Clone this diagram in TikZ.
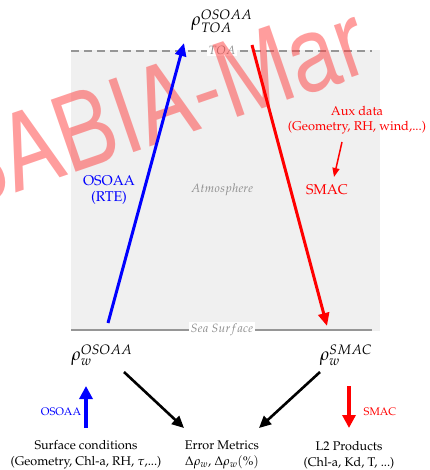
\documentclass[tikz,border=0pt]{standalone}
\usepackage[T1]{fontenc}
\usepackage{mathpazo}
\usepackage[scaled]{helvet}
\usetikzlibrary{arrows.meta}
\definecolor{bgray}{RGB}{240,240,240}
\definecolor{lgray}{RGB}{150,150,150}
\definecolor{tgray}{RGB}{140,140,140}
\definecolor{wmred}{RGB}{255,60,60}
\tikzset{
  txt/.style={inner sep=0pt, align=center, font=\fontsize{12.6}{16}\selectfont},
  rho/.style={inner sep=0pt, font=\fontsize{18}{20}\selectfont},
  lbl/.style={inner sep=0pt, align=center, font=\fontsize{14.2}{16.5}\selectfont},
  small/.style={inner sep=0pt, font=\fontsize{11}{13}\selectfont},
  layer/.style={inner sep=1.5pt, fill=white, text=tgray, font=\fontsize{12}{14}\selectfont},
  bigarrow/.style={line width=3pt, -{Triangle[length=13pt,width=11pt]}},
  blackarrow/.style={line width=2.6pt, -{Triangle[length=12pt,width=11pt]}},
  stubarrow/.style={line width=4pt, -{Triangle[length=13pt,width=13pt]}},
  auxarrow/.style={line width=1.5pt, -{Triangle[length=9pt,width=7pt]}}
}
\begin{document}
\begin{tikzpicture}[x=1pt,y=-1pt]
\useasboundingbox (0,0) rectangle (429,470);
% atmosphere box
\fill[bgray] (71,50) rectangle (380,331);
\draw[lgray, line width=2pt, dash pattern=on 8pt off 5pt] (71,51) -- (372,51);
\draw[lgray, line width=2pt] (71,330) -- (372,330);
\node[layer] (toa) at (222,50) {$TOA$};
% watermark
\begin{scope}
\clip (0,0) rectangle (429,470);
\node[anchor=base west, inner sep=0pt, rotate=19, text=wmred, text opacity=0.5,
      font=\fontsize{110}{110}\sffamily, xscale=0.84] (wm) at (-41,213) {BABIA-Mar};
\end{scope}
\node[layer] (sea) at (222,330) {$Sea~Surface$};
\node[inner sep=0pt, text=tgray, font=\fontsize{12}{14}\selectfont] (atm) at (222,190) {$Atmosphere$};
% top
\node[rho] (rtoa) at (222,21) {$\rho_{TOA}^{OSOAA}$};
\coordinate (bstart) at (108,323);
\coordinate (bend) at (184,43);
\coordinate (rstart) at (252,45);
\coordinate (rend) at (327,326);
\draw[blue, bigarrow] (bstart) -- (bend);
\draw[red, bigarrow] (rstart) -- (rend);
\node[lbl, text=blue] (osoaa) at (109,190) {OSOAA\\(RTE)};
\node[lbl, text=red] (smac) at (327,190) {SMAC};
\node[txt, text=red, font=\fontsize{12.8}{15}\selectfont] (aux) at (357,120) {Aux data\\(Geometry, RH, wind,...)};
\coordinate (auxs) at (342,142);
\coordinate (auxe) at (334,177);
\draw[red, auxarrow] (auxs) -- (auxe);
% water-leaving
\node[rho] (rwo) at (102,355) {$\rho_{w}^{OSOAA}$};
\node[rho] (rws) at (346,355) {$\rho_{w}^{SMAC}$};
% bottom texts
\node[txt] (surf) at (86,455) {Surface conditions\\(Geometry, Chl-a, RH, $\tau$,...)};
\node[txt] (err) at (222,455) {Error Metrics\\$\Delta\rho_w$, $\Delta\rho_w(\%)$};
\node[txt] (l2) at (349,455) {L2 Products\\(Chl-a, Kd, T, ...)};
\coordinate (a1s) at (124,372);
\coordinate (a1e) at (184,428);
\coordinate (a2s) at (320,372);
\coordinate (a2e) at (259,428);
\draw[blackarrow] (a1s) -- (a1e);
\draw[blackarrow] (a2s) -- (a2e);
\coordinate (bus) at (86,428);
\coordinate (bue) at (86,386);
\coordinate (rds) at (349,386);
\coordinate (rde) at (349,428);
\draw[blue, stubarrow] (bus) -- (bue);
\draw[red, stubarrow] (rds) -- (rde);
\node[small, text=blue] (so) at (61,412) {OSOAA};
\node[small, text=red] (ss) at (380,412) {SMAC};
\end{tikzpicture}
\end{document}
